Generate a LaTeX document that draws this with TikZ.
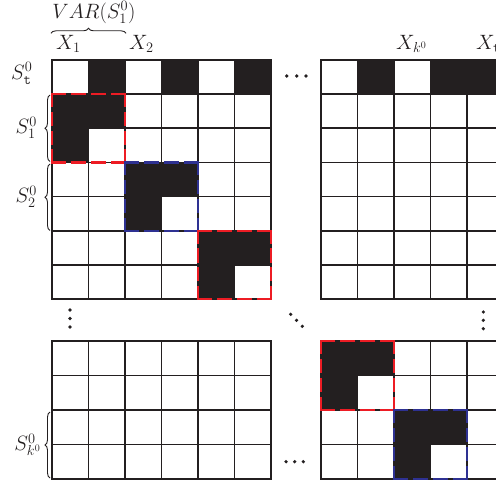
\documentclass[tikz,border=0pt]{standalone}
\usepackage{graphicx}
\usetikzlibrary{decorations.pathreplacing}
\definecolor{ink}{HTML}{231F20}
\definecolor{boxred}{HTML}{ED1C24}
\definecolor{boxblue}{HTML}{2E3192}
\newcommand\cw{36.5}
% grid: x0, y0, ncols, nrows, row height
\newcommand\drawgrid[5]{%
  \foreach \i in {0,...,#3} \draw[gridline] ({#1+\i*\cw},#2) -- ++(0,{(#4)*(#5)});
  \foreach \j in {0,...,#4} \draw[gridline] (#1,{#2+\j*(#5)}) -- ++({(#3)*\cw},0);
}
% black cell: x0, y0, row height, col, row
\newcommand\blackcell[5]{\fill[cellfill] ({#1+(#4)*\cw},{#2+(#5)*(#3)}) rectangle ++(\cw,#3);}
% L-shape of three black cells with top-left cell at col,row
\newcommand\lshape[5]{%
  \blackcell{#1}{#2}{#3}{#4}{#5}%
  \blackcell{#1}{#2}{#3}{#4+1}{#5}%
  \blackcell{#1}{#2}{#3}{#4}{#5+1}%
}
% dashed box: x, y, w, h, colour
\newcommand\dbox[5]{%
  \pgfmathsetmacro\dashh{(#3-21)/4}%
  \pgfmathsetmacro\dashv{(#4-21)/4}%
  \draw[boxline,#5,dash pattern=on \dashh pt off 7pt] (#1,#2) -- ++(#3,0);
  \draw[boxline,#5,dash pattern=on \dashh pt off 7pt] (#1,{#2+#4}) -- ++(#3,0);
  \draw[boxline,#5,dash pattern=on \dashv pt off 7pt] (#1,#2) -- ++(0,#4);
  \draw[boxline,#5,dash pattern=on \dashv pt off 7pt] ({#1+#3},#2) -- ++(0,#4);
}
\begin{document}
\begin{tikzpicture}[x=1pt,y=-1pt,
  gridline/.style={draw=ink, line width=1.8pt, line cap=rect},
  cellfill/.style={fill=ink},
  boxline/.style={line width=2.4pt, line cap=rect},
  lbl/.style={text=ink, inner sep=0pt, font=\fontsize{20}{24}\selectfont},
  bracestyle/.style={draw=ink, line width=0.9pt, decorate, decoration={brace, amplitude=5pt}},
  dotfill/.style={fill=ink},
]
\useasboundingbox (0,0) rectangle (496,484);
\clip (0,0) rectangle (496,484);
% ---- top-left grid
\foreach \c in {1,3,5} {\blackcell{52}{60}{34.15}{\c}{0}}
\lshape{52}{60}{34.15}{0}{1}
\lshape{52}{60}{34.15}{2}{3}
\lshape{52}{60}{34.15}{4}{5}
\drawgrid{52}{60}{6}{7}{34.15}
% ---- top-right grid
\foreach \c in {1,3,4,5} {\blackcell{321}{60}{34.15}{\c}{0}}
\drawgrid{321}{60}{6}{7}{34.15}
% ---- bottom-left grid
\drawgrid{52}{341}{6}{4}{34.5}
% ---- bottom-right grid
\lshape{321}{341}{34.5}{0}{0}
\lshape{321}{341}{34.5}{2}{2}
\drawgrid{321}{341}{6}{4}{34.5}
% ---- dashed boxes
\dbox{52}{94.15}{73}{68.3}{boxred}
\dbox{125}{162.45}{73}{68.3}{boxblue}
\dbox{198}{230.75}{73}{68.3}{boxred}
\dbox{321}{341}{73}{69}{boxred}
\dbox{394}{410}{73}{69}{boxblue}
% ---- labels
\node[lbl, anchor=base] (var) at (94,18.5) {$VAR(S_1^0)$};
\draw[bracestyle] (51,33.3) -- (126,33.3);
\node[lbl, anchor=base west] (x1) at (56,49.5) {$X_1$};
\node[lbl, anchor=base west] (x2) at (129,49.5) {$X_2$};
\node[lbl, anchor=base west] (xk) at (396,49.5) {$X_{k^0}$};
\node[lbl, anchor=base west] (xt) at (476,49.5) {$X_{\mathtt{t}}$};
\node[lbl, anchor=base west] (st) at (11,79.5) {$S^0_{\mathtt{t}}$};
\node[lbl, anchor=east] (s1) at (37,128) {$S^0_1$};
\draw[bracestyle] (50,161.5) -- (50,95);
\node[lbl, anchor=east] (s2) at (37,197) {$S^0_2$};
\draw[bracestyle] (50,230.5) -- (50,164);
\node[lbl, anchor=east] (sk) at (41,445) {$S^0_{k^0}$};
\draw[bracestyle] (50,478) -- (50,412);
% ---- dots
\foreach \x in {286.7,296.7,306} \fill[dotfill] (\x,76) circle (1.8);
\foreach \y in {310,318.5,327} \fill[dotfill] (70,\y) circle (1.8);
\foreach \p in {(290.7,314.3),(296.5,320.3),(302.3,326.3)} \fill[dotfill] \p circle (1.8);
\foreach \y in {312,320.3,328.7} \fill[dotfill] (483.3,\y) circle (1.8);
\foreach \x in {286,294.7,303.3} \fill[dotfill] (\x,461.7) circle (1.8);
\end{tikzpicture}
\end{document}
